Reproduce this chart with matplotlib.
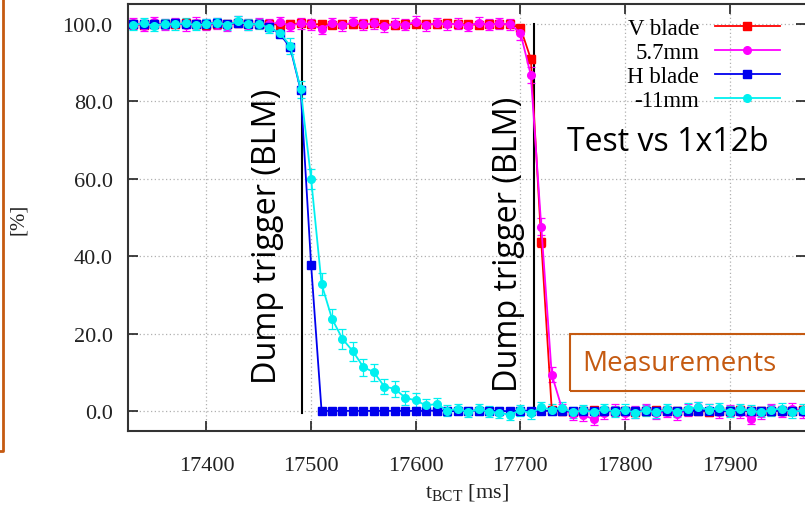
import numpy as np
import matplotlib.pyplot as plt
from matplotlib.lines import Line2D
from matplotlib.patches import Rectangle

# BCT time axis, one sample every 10 ms
t = np.arange(17330, 17980, 10)

v_blade = [100.0, 99.8, 100.1, 100.0, 99.9, 100.2, 100.0, 99.8, 100.1, 100.0,
           100.2, 99.9, 100.0, 100.1, 99.8, 100.0, 100.2, 99.9, 100.0, 99.8,
           100.1, 100.0, 99.9, 100.2, 100.0, 99.8, 100.0, 100.1, 99.9, 100.0,
           100.2, 99.9, 100.0, 99.8, 100.1, 100.0, 99.9, 99.1, 91.0, 43.6,
           0.3, 0.1, -0.2, 0.0, 0.2, -0.1, 0.0, 0.1, -0.2, 0.0,
           0.2, 0.0, -0.1, 0.1, 0.0, -0.2, 0.1, 0.0, 0.2, -0.1,
           0.0, 0.1, -0.1, 0.0, 0.2]
mm_57 = [100.2, 99.6, 100.5, 99.8, 100.3, 99.7, 100.4, 99.9, 100.1, 99.5,
         100.6, 99.8, 100.3, 99.9, 100.5, 99.6, 100.2, 99.9, 98.8, 100.3,
         99.7, 100.5, 99.9, 100.2, 99.4, 100.1, 99.8, 100.6, 99.7, 100.3,
         99.9, 100.1, 99.5, 100.4, 99.8, 100.2, 99.9, 97.8, 86.8, 47.6,
         9.4, 0.4, -0.8, -1.0, -2.2, -0.6, 0.2, -0.5, -0.3, 0.4,
         -0.6, -0.2, -0.8, 0.3, 0.9, 0.2, -0.4, 0.1, -0.3, -2.0,
         -0.5, 0.4, -0.2, 0.6, -0.3]
h_blade = [100.0, 100.1, 99.9, 100.0, 100.2, 99.9, 100.0, 100.1, 100.3, 100.0,
           100.4, 100.0, 99.9, 99.3, 97.5, 94.0, 83.0, 37.8, 0.0, 0.0,
           0.0, 0.0, 0.0, 0.0, 0.0, 0.0, 0.0, 0.0, 0.0, 0.1,
           0.0, -0.1, 0.0, 0.1, 0.0, 0.0, -0.1, 0.0, 0.1, 0.0,
           0.0, 0.1, -0.1, 0.0, 0.1, 0.0, -0.1, 0.0, 0.1, 0.0,
           -0.1, 0.0, 0.1, 0.0, 0.0, 0.1, -0.1, 0.0, 0.1, 0.0,
           -0.1, 0.0, 0.1, 0.0, -0.1]
mm_11 = [99.8, 100.2, 99.6, 100.1, 99.9, 100.3, 99.7, 100.0, 100.4, 99.8,
         100.7, 99.9, 100.1, 99.0, 97.8, 94.4, 83.2, 60.0, 32.8, 23.8,
         18.6, 15.4, 11.3, 10.0, 6.3, 5.7, 3.4, 2.7, 1.4, 1.8,
         0.1, 0.5, -0.3, 0.4, -0.2, -0.5, -1.0, 0.2, -0.6, 0.9,
         0.3, 0.8, -0.4, 0.2, -0.3, 0.4, -0.2, 0.3, -0.5, 0.2,
         -0.4, 0.5, -0.3, 0.6, 1.0, 0.3, 0.7, -0.2, 0.4, 0.1,
         -0.3, 0.2, 0.6, -0.4, 0.3]

err_v = [0.4] * 37 + [0.6, 1.0, 1.2] + [0.4] * 25
err_57 = [1.4] * 37 + [1.8, 2.0, 2.2, 2.0] + [1.5] * 24
err_h = [0.3] * 65
err_11 = [1.3] * 15 + [2.0, 2.2, 2.6, 2.8, 2.6, 2.6, 2.4, 2.2, 2.2, 2.0,
                       2.0, 1.8, 1.8, 1.6, 1.6] + [1.4] * 35

labels = ["V blade", "5.7mm", "H blade", "-11mm"]
colors = ["#ff0000", "#ff00ff", "#0000ee", "#00f0f0"]
markers = ["s", "o", "s", "o"]

# dump trigger times (ms)
trig = [17491.5, 17713.5]

serif = "Liberation Serif"
sans = "Open Sans"
orange = "#c55a11"

fig = plt.figure(figsize=(8.05, 5.06), dpi=100)
ax = fig.add_axes([128 / 805, 74 / 506, 678 / 805, 427 / 506])

series = [v_blade, mm_57, h_blade, mm_11]
errs = [err_v, err_57, err_h, err_11]
for y, e, c, m in zip(series, errs, colors, markers):
    ax.errorbar(t, y, yerr=e, color=c, marker=m, markersize=5.5, lw=1.3,
                elinewidth=0.9, capsize=3, capthick=0.9, zorder=3)

for tt in trig:
    ax.plot([tt, tt], [-0.5, 100], color="black", lw=1.5, zorder=2)

ax.set_xlim(17325, 17973)
ax.set_ylim(-5.2, 105.2)
ax.set_xticks([17400, 17500, 17600, 17700, 17800, 17900])
ax.set_yticks([0, 20, 40, 60, 80, 100])
ax.set_yticklabels([f"{v:.1f}" for v in [0, 20, 40, 60, 80, 100]])
ax.grid(True, linestyle=(0, (1, 2)), color="#b0b0b0", lw=0.9)
ax.set_axisbelow(True)
ax.tick_params(direction="in", length=7, width=1.2, top=True, right=True,
               labelsize=16, colors="#222222")
ax.tick_params(axis="x", pad=18)
ax.tick_params(axis="y", pad=11)
for lab in ax.get_xticklabels() + ax.get_yticklabels():
    lab.set_family(serif)
for s in ax.spines.values():
    s.set_linewidth(1.5)
    s.set_color("#333333")

ax.set_xlabel(r"t$_{\mathregular{BCT}}$ [ms]", family=serif, fontsize=16,
              color="#222222", labelpad=5)
fig.text(18 / 805, 1 - 219 / 506, "[%]", family=serif, fontsize=15,
         rotation=90, ha="center", va="center", color="#222222")

# legend: label on the left, line sample on the right
handles = [Line2D([], [], color=c, marker=m, markersize=5.5, lw=1.3)
           for c, m in zip(colors, markers)]
leg = ax.legend(handles, labels, loc="upper right", markerfirst=False,
                bbox_to_anchor=(791 / 805, 1 - 8 / 506),
                bbox_transform=fig.transFigure, frameon=False, borderpad=0,
                handlelength=2.8, handletextpad=0.7, labelspacing=0.12,
                prop={"family": serif, "size": 16.5})
leg._legend_handle_box.get_children()[0].align = "right"

fig.text(267 / 805, 1 - 236 / 506, "Dump trigger (BLM)", rotation=90,
         ha="center", va="center", family=sans, fontsize=23.3)
fig.text(508 / 805, 1 - 244 / 506, "Dump trigger (BLM)", rotation=90,
         ha="center", va="center", family=sans, fontsize=23.3)
fig.text(668 / 805, 1 - 143 / 506, "Test vs 1x12b", ha="center",
         va="center", family=sans, fontsize=23)

fig.patches.append(Rectangle((570 / 805, 1 - 392 / 506), 240 / 805, 57 / 506,
                             transform=fig.transFigure, fill=False,
                             edgecolor=orange, lw=1.5))
fig.text(679 / 805, 1 - 364 / 506, "Measurements", ha="center", va="center",
         family=sans, fontsize=20, color=orange)

fig.lines.append(Line2D([3 / 805, 3 / 805, 0], [1, 1 - 452 / 506, 1 - 452 / 506],
                        transform=fig.transFigure, color=orange, lw=2))

fig.savefig("out.png", dpi=100)
